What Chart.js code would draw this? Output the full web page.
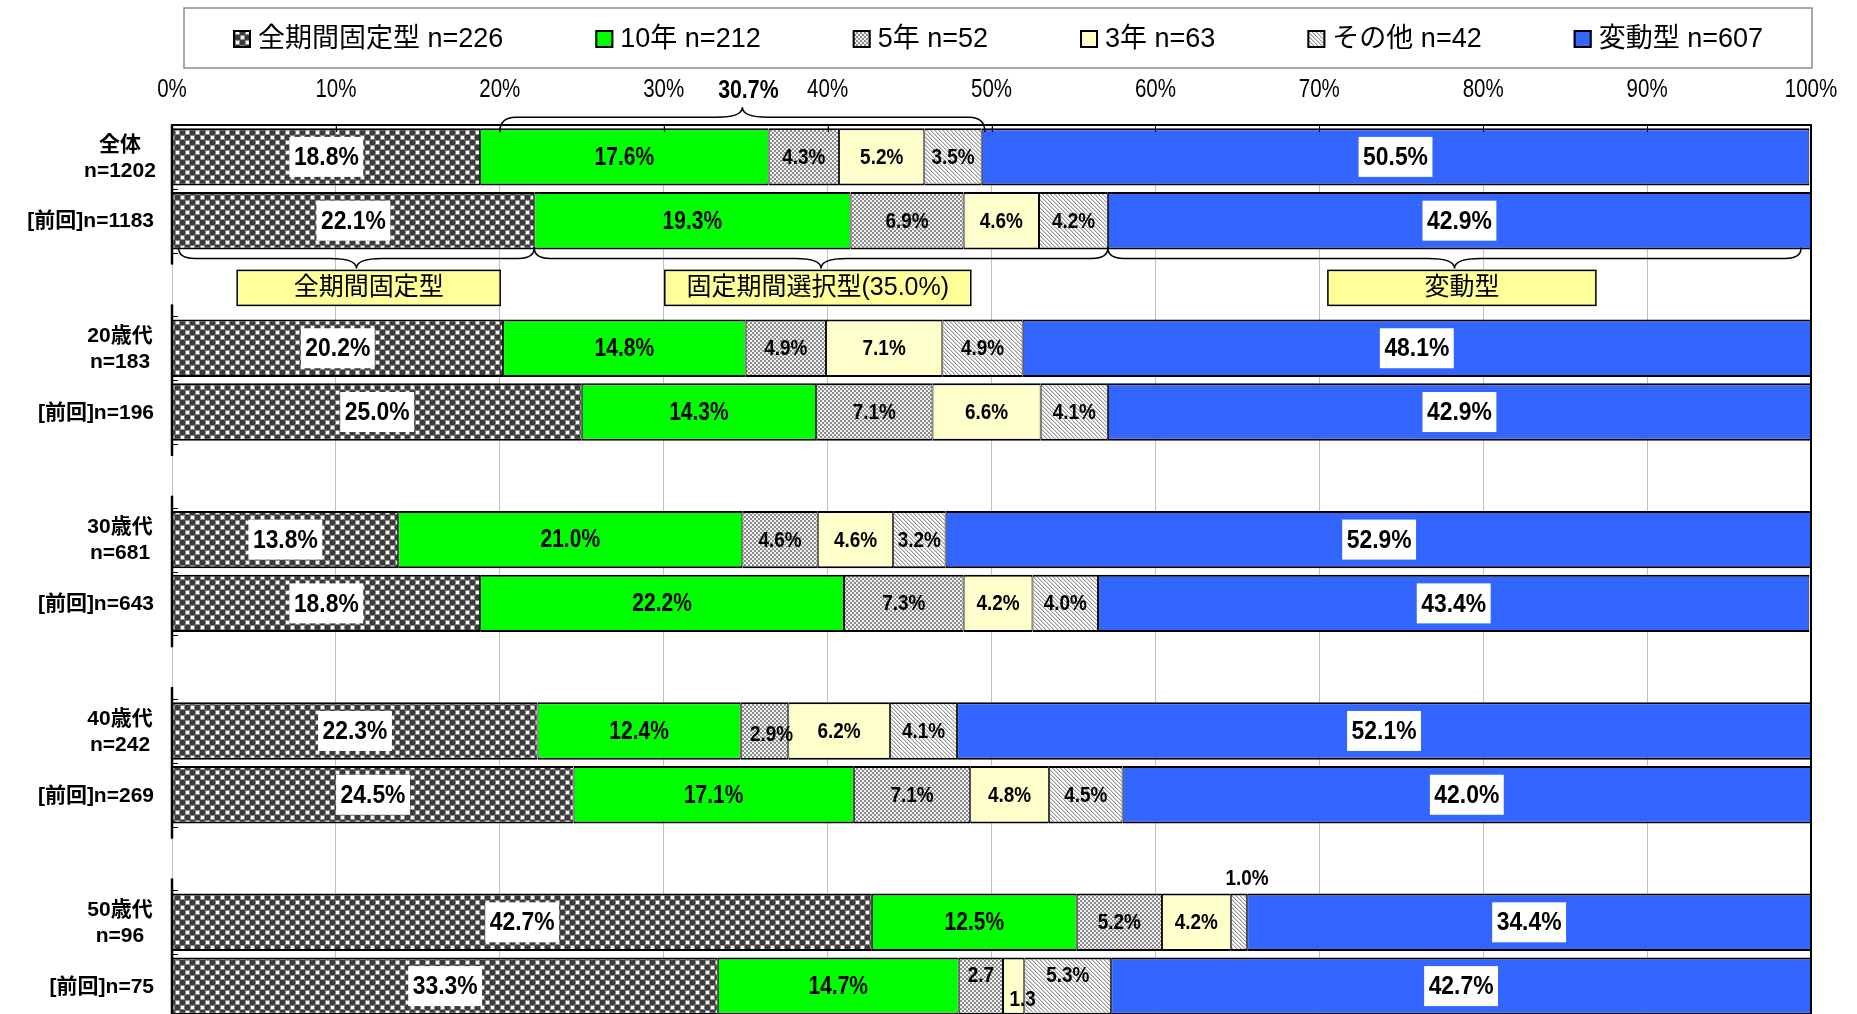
<!DOCTYPE html>
<html>
<head>
<meta charset="utf-8">
<script src="https://cdn.jsdelivr.net/npm/chart.js@4.4.1/dist/chart.umd.min.js"></script>
<style>
html, body { margin: 0; padding: 0; background: #fff; overflow: hidden; }
canvas { display: block; }
</style>
</head>
<body>
<canvas id="chart" width="1857" height="1020"></canvas>
<script>
// rows of the chart ('' = spacer row between age groups)
const categories = ['全体', '[前回]', '', '20歳代', '[前回]', '', '30歳代', '[前回]', '', '40歳代', '[前回]', '', '50歳代', '[前回]'];
const sampleSizes = ['n=1202', 'n=1183', '', 'n=183', 'n=196', '', 'n=681', 'n=643', '', 'n=242', 'n=269', '', 'n=96', 'n=75'];

const fixedAll  = [18.8, 22.1, null, 20.2, 25.0, null, 13.8, 18.8, null, 22.3, 24.5, null, 42.7, 33.3];
const tenYear   = [17.6, 19.3, null, 14.8, 14.3, null, 21.0, 22.2, null, 12.4, 17.1, null, 12.5, 14.7];
const fiveYear  = [4.3, 6.9, null, 4.9, 7.1, null, 4.6, 7.3, null, 2.9, 7.1, null, 5.2, 2.7];
const threeYear = [5.2, 4.6, null, 7.1, 6.6, null, 4.6, 4.2, null, 6.2, 4.8, null, 4.2, 1.3];
const other     = [3.5, 4.2, null, 4.9, 4.1, null, 3.2, 4.0, null, 4.1, 4.5, null, 1.0, 5.3];
const variable  = [50.5, 42.9, null, 48.1, 42.9, null, 52.9, 43.4, null, 52.1, 42.0, null, 34.4, 42.7];

const seriesNames = ['全期間固定型', '10年', '5年', '3年', 'その他', '変動型'];
const seriesN = ['n=226', 'n=212', 'n=52', 'n=63', 'n=42', 'n=607'];

const xTicks = [0, 10, 20, 30, 40, 50, 60, 70, 80, 90, 100];

// annotations: brace over 全体 and the three type groups under [前回]
const topBrace = [20.0, 49.6];
const topBraceLabel = '30.7%';
const groupBraces = [[0.4, 22.1], [22.1, 57.1], [57.1, 99.4]];
const groupLabels = ['全期間固定型', '固定期間選択型(35.0%)', '変動型'];
const groupLabelAt = [12.0, 39.4, 78.7];

const SANS = "'Liberation Sans', 'Noto Sans CJK JP', sans-serif";

let canvas = document.getElementById('chart');
let ctx = canvas.getContext('2d');

function makePattern(w, h, draw) {
    let c = document.createElement('canvas');
    c.width = w;
    c.height = h;
    draw(c.getContext('2d'));
    return ctx.createPattern(c, 'repeat');
}

// dark checker for 全期間固定型
let darkPattern = makePattern(10, 10, function(g){
    g.fillStyle = '#ffffff'; g.fillRect(0, 0, 10, 10);
    g.fillStyle = '#3c3c3c'; g.fillRect(0, 0, 5, 5); g.fillRect(5, 5, 5, 5);
    g.fillStyle = '#8a8a8a'; g.fillRect(5, 0, 5, 5); g.fillRect(0, 5, 5, 5);
    g.fillStyle = '#ffffff'; g.fillRect(6, 1, 3, 3); g.fillRect(1, 6, 3, 3);
});
// fine light checker for 5年
let finePattern = makePattern(4, 4, function(g){
    g.fillStyle = '#f0f0f0'; g.fillRect(0, 0, 4, 4);
    g.fillStyle = '#8c8c8c'; g.fillRect(0, 0, 2, 2); g.fillRect(2, 2, 2, 2);
});
// diagonal hatch for その他
let hatchPattern = makePattern(4, 4, function(g){
    g.fillStyle = '#ffffff'; g.fillRect(0, 0, 4, 4);
    for(let i = 0; i < 4; i++){
        g.fillStyle = '#9a9a9a'; g.fillRect(i, i, 1, 1);
        g.fillStyle = '#cfcfcf'; g.fillRect((i + 1) % 4, i, 1, 1);
    }
});

let fills = [darkPattern, '#00ff00', finePattern, '#ffffcc', hatchPattern, '#3366ff'];
let values = [fixedAll, tenYear, fiveYear, threeYear, other, variable];

let datasets = [];
for(let i = 0; i < seriesNames.length; i++){
    datasets.push({
        label: seriesNames[i] + ' ' + seriesN[i],
        data: values[i],
        backgroundColor: fills[i],
        borderColor: '#000000',
        borderWidth: {top: 2, bottom: 2, left: 1, right: 1},
        borderSkipped: false,
        barPercentage: 0.9,
        categoryPercentage: 1.0
    });
}

// text squeezed horizontally (the original uses a narrow face)
function narrowText(c, text, x, y, sx){
    c.save();
    c.translate(x, y);
    c.scale(sx, 1);
    c.fillText(text, 0, 0);
    c.restore();
}

// label tweaks where a segment is too narrow: [dataset, row, text, dx, dy]
const labelTweaks = [
    [4, 12, '1.0%', 8, -44],
    [2, 13, '2.7', 0, -11],
    [3, 13, '1.3', 9, 13],
    [4, 13, null, 0, -11],
    [2, 9, null, 7, 3]
];

const segmentLabels = {
    id: 'segmentLabels',
    afterDatasetsDraw(chart){
        let c = chart.ctx;
        c.save();
        c.textAlign = 'center';
        c.textBaseline = 'middle';
        chart.data.datasets.forEach(function(ds, di){
            let meta = chart.getDatasetMeta(di);
            meta.data.forEach(function(el, ri){
                let v = ds.data[ri];
                if(v === null) return;
                let text = v.toFixed(1) + '%';
                let x = (el.x + el.base) / 2;
                let y = el.y;
                labelTweaks.forEach(function(t){
                    if(t[0] === di && t[1] === ri){
                        if(t[2]) text = t[2];
                        x += t[3];
                        y += t[4];
                    }
                });
                let sx = 0.84;
                if(di === 0 || di === 5){
                    c.font = 'bold 26px ' + SANS;
                    sx = 0.88;
                    let w = c.measureText(text).width * sx + 9;
                    c.fillStyle = '#ffffff';
                    c.fillRect(x - w / 2, y - 20, w, 40);
                } else if(di === 1){
                    c.font = 'bold 25px ' + SANS;
                } else {
                    c.font = 'bold 22px ' + SANS;
                    sx = 0.86;
                }
                c.fillStyle = '#000000';
                narrowText(c, text, x, y + 1, sx);
            });
        });
        c.restore();
    }
};

function drawBrace(c, x1, x2, yEnd, yMid, yTip){
    let xc = (x1 + x2) / 2;
    let r1 = 16, r2 = 26;
    c.beginPath();
    c.moveTo(x1, yEnd);
    c.quadraticCurveTo(x1, yMid, x1 + r1, yMid);
    c.lineTo(xc - r2, yMid);
    c.quadraticCurveTo(xc, yMid, xc, yTip);
    c.quadraticCurveTo(xc, yMid, xc + r2, yMid);
    c.lineTo(x2 - r1, yMid);
    c.quadraticCurveTo(x2, yMid, x2, yEnd);
    c.stroke();
}

const decorations = {
    id: 'decorations',
    afterDraw(chart){
        let c = chart.ctx;
        let xs = chart.scales.x;
        let ys = chart.scales.y;
        let area = chart.chartArea;
        c.save();

        // right border of plot
        c.strokeStyle = '#000000';
        c.lineWidth = 2;
        c.beginPath();
        c.moveTo(area.right, area.top);
        c.lineTo(area.right, area.bottom);
        c.stroke();

        // x tick labels and inward ticks on the top axis
        c.lineWidth = 1;
        c.fillStyle = '#000000';
        c.font = '25px ' + SANS;
        c.textAlign = 'center';
        c.textBaseline = 'middle';
        xs.ticks.forEach(function(t){
            let px = xs.getPixelForValue(t.value);
            narrowText(c, t.value + '%', px, 90, 0.82);
            let lx = Math.round(px) + 0.5;
            c.beginPath();
            c.moveTo(lx, area.top);
            c.lineTo(lx, area.top + 7);
            c.stroke();
        });

        // y axis: one segment per group with inward ticks
        let slot = ys.getPixelForValue(1) - ys.getPixelForValue(0);
        categories.forEach(function(name, i){
            if(!name || name.charAt(0) === '[') return;
            let top = ys.getPixelForValue(i) - slot / 2;
            let bottom = ys.getPixelForValue(i + 1) + slot / 2;
            c.lineWidth = 2.5;
            c.beginPath();
            c.moveTo(area.left, Math.max(area.top, top - 12));
            c.lineTo(area.left, bottom + 12);
            c.stroke();
            c.lineWidth = 1;
            [top, top + slot, bottom].forEach(function(ty){
                c.beginPath();
                c.moveTo(area.left, Math.round(ty) + 0.5);
                c.lineTo(area.left + 6, Math.round(ty) + 0.5);
                c.stroke();
            });
        });

        // row labels
        c.fillStyle = '#000000';
        c.font = 'bold 21px ' + SANS;
        categories.forEach(function(name, i){
            if(!name) return;
            let py = ys.getPixelForValue(i);
            if(name.charAt(0) === '['){
                c.textAlign = 'right';
                c.fillText(name + sampleSizes[i], 154, py + 1);
            } else {
                c.textAlign = 'center';
                c.fillText(name, 120, py - 12);
                c.fillText(sampleSizes[i], 120, py + 14);
            }
        });

        // brace above 全体
        let bar0 = chart.getDatasetMeta(0).data[0];
        let barTop = bar0.y - bar0.height / 2;
        c.lineWidth = 1.5;
        c.strokeStyle = '#000000';
        drawBrace(c, xs.getPixelForValue(topBrace[0]), xs.getPixelForValue(topBrace[1]), barTop + 4, barTop - 11, barTop - 21);
        c.font = 'bold 26px ' + SANS;
        c.textAlign = 'center';
        narrowText(c, topBraceLabel, xs.getPixelForValue((topBrace[0] + topBrace[1]) / 2) + 6, 91, 0.82);

        // group braces under [前回]n=1183
        let bar1 = chart.getDatasetMeta(0).data[1];
        let barBottom = bar1.y + bar1.height / 2;
        let boxWidths = [263, 306, 268];
        groupBraces.forEach(function(b, k){
            let x1 = xs.getPixelForValue(b[0]);
            let x2 = xs.getPixelForValue(b[1]);
            c.lineWidth = 1.5;
            drawBrace(c, x1, x2, barBottom - 2, barBottom + 9, barBottom + 19);
            let cx = xs.getPixelForValue(groupLabelAt[k]);
            let bw = boxWidths[k];
            let by = barBottom + 21;
            c.fillStyle = '#ffff99';
            c.fillRect(cx - bw / 2, by, bw, 35);
            c.strokeRect(cx - bw / 2, by, bw, 35);
            c.fillStyle = '#000000';
            c.font = '25px ' + SANS;
            c.fillText(groupLabels[k], cx, by + 18);
        });

        // legend
        let lx1 = 184, lx2 = 1812, ly1 = 8, ly2 = 68;
        c.strokeStyle = '#8c8c8c';
        c.lineWidth = 1.5;
        c.strokeRect(lx1, ly1, lx2 - lx1, ly2 - ly1);
        c.font = '27px ' + SANS;
        c.textAlign = 'left';
        let gap = 92, box = 18, pad = 7;
        let total = 0;
        chart.data.datasets.forEach(function(ds){
            total += box + pad + c.measureText(ds.label).width;
        });
        total += gap * (chart.data.datasets.length - 1);
        let x = (lx1 + lx2) / 2 - total / 2;
        let cy = (ly1 + ly2) / 2 + 1;
        chart.data.datasets.forEach(function(ds){
            c.fillStyle = ds.backgroundColor;
            c.fillRect(x, cy - box / 2, box, box);
            c.strokeStyle = '#000000';
            c.lineWidth = 2;
            c.strokeRect(x + 1, cy - box / 2 + 1, box - 2, box - 2);
            c.fillStyle = '#000000';
            c.fillText(ds.label, x + box + pad, cy + 1);
            x += box + pad + c.measureText(ds.label).width + gap;
        });

        c.restore();
    }
};

let options = {
    type: 'bar',
    data: {
        labels: categories,
        datasets: datasets
    },
    options: {
        indexAxis: 'y',
        responsive: false,
        animation: false,
        devicePixelRatio: 1,
        layout: {
            padding: {top: 70, left: 0, right: 46, bottom: 2}
        },
        plugins: {
            legend: {display: false},
            tooltip: {enabled: false}
        },
        scales: {
            x: {
                type: 'linear',
                position: 'top',
                stacked: true,
                min: 0,
                max: 100,
                afterBuildTicks: function(scale){
                    scale.ticks = xTicks.map(function(v){ return {value: v}; });
                },
                afterFit: function(scale){ scale.height = 55; },
                ticks: {display: false},
                grid: {color: '#c0c0c0', drawTicks: false, lineWidth: 1},
                border: {display: true, color: '#000000', width: 2}
            },
            y: {
                stacked: true,
                afterFit: function(scale){ scale.width = 172; },
                ticks: {display: false},
                grid: {display: false},
                border: {display: false}
            }
        }
    },
    plugins: [segmentLabels, decorations]
};

let chart = new Chart(canvas, options);
</script>
</body>
</html>
